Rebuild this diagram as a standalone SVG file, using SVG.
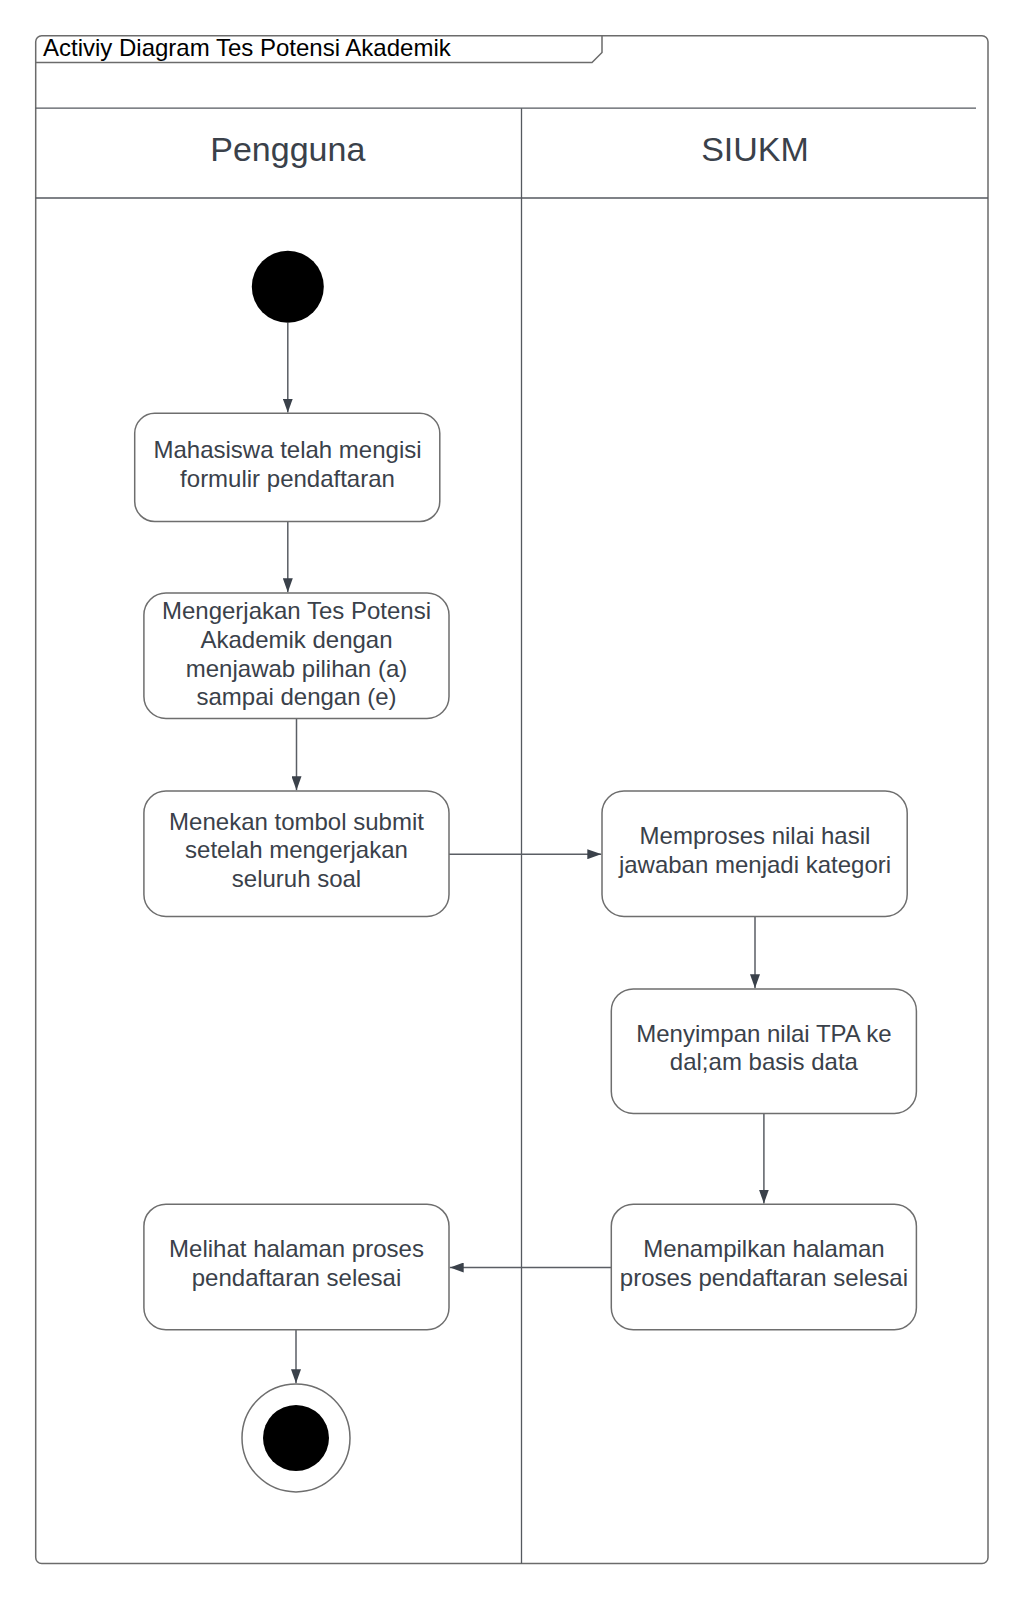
<svg xmlns="http://www.w3.org/2000/svg" width="1024" height="1600" viewBox="0 0 1024 1600">
<style>
.frame{fill:none;stroke:#6b6b6b;stroke-width:1.5}
.lane{fill:none;stroke:#55595f;stroke-width:1.3}
.box{fill:#ffffff;stroke:#6e6e6e;stroke-width:1.5}
.txt{font-family:"Liberation Sans",Arial,sans-serif;font-size:24px;fill:#3a414a;text-anchor:middle}
.lt{font-family:"Liberation Sans",Arial,sans-serif;font-size:34px;fill:#3a414a;text-anchor:middle}
.title{font-family:"Liberation Sans",Arial,sans-serif;font-size:24px;fill:#000000}
.conn{fill:none;stroke:#5a5e64;stroke-width:1.5}
</style>
<defs>
<marker id="arr" viewBox="0 0 14 10" refX="14" refY="5" markerWidth="14" markerHeight="10" markerUnits="userSpaceOnUse" orient="auto">
<path d="M0,0 L14,5 L0,10 Z" fill="#3a414a"/>
</marker>
</defs>
<rect width="1024" height="1600" fill="#ffffff"/>
<g id="frame">
<rect class="frame" x="35.7" y="35.7" width="952.3" height="1527.8" rx="6"/>
<path class="frame" d="M35.7,62.5 L592,62.5 L602,52.5 L602,35.7"/>
<text class="title" x="43" y="55.8">Activiy Diagram Tes Potensi Akademik</text>
<line class="lane" x1="35.7" y1="108.2" x2="976" y2="108.2"/>
<line class="lane" x1="35.7" y1="198" x2="988" y2="198"/>
<line class="lane" x1="521.5" y1="108.2" x2="521.5" y2="1563.5"/>
</g>
<g id="lane-pengguna"><text class="lt" x="287.8" y="161.4">Pengguna</text></g>
<g id="lane-siukm"><text class="lt" x="755" y="161.4">SIUKM</text></g>
<g id="connectors">
<line class="conn" x1="287.8" y1="322.8" x2="287.8" y2="412.6" marker-end="url(#arr)"/>
<line class="conn" x1="287.8" y1="521.5" x2="287.8" y2="592.3" marker-end="url(#arr)"/>
<line class="conn" x1="296.5" y1="718.4" x2="296.5" y2="790.3" marker-end="url(#arr)"/>
<line class="conn" x1="449" y1="854.2" x2="601.3" y2="854.2" marker-end="url(#arr)"/>
<line class="conn" x1="755" y1="916.4" x2="755" y2="988.2" marker-end="url(#arr)"/>
<line class="conn" x1="763.9" y1="1113.4" x2="763.9" y2="1203.5" marker-end="url(#arr)"/>
<line class="conn" x1="611.3" y1="1267.5" x2="449.7" y2="1267.5" marker-end="url(#arr)"/>
<line class="conn" x1="296" y1="1329.7" x2="296" y2="1383.2" marker-end="url(#arr)"/>
</g>
<g id="start"><circle cx="287.8" cy="286.8" r="36" fill="#000000"/></g>
<g id="n1">
<rect class="box" x="134.7" y="413.3" width="305.1" height="108.2" rx="20"/>
<text class="txt" x="287.5" y="458.4">Mahasiswa telah mengisi</text>
<text class="txt" x="287.5" y="486.8">formulir pendaftaran</text>
</g>
<g id="n2">
<rect class="box" x="143.9" y="593" width="305.1" height="125.4" rx="22"/>
<text class="txt" x="296.5" y="619.4">Mengerjakan Tes Potensi</text>
<text class="txt" x="296.5" y="647.8">Akademik dengan</text>
<text class="txt" x="296.5" y="676.7">menjawab pilihan (a)</text>
<text class="txt" x="296.5" y="705.1">sampai dengan (e)</text>
</g>
<g id="n3">
<rect class="box" x="143.9" y="791" width="305.1" height="125.4" rx="22"/>
<text class="txt" x="296.5" y="829.7">Menekan tombol submit</text>
<text class="txt" x="296.5" y="858">setelah mengerjakan</text>
<text class="txt" x="296.5" y="887">seluruh soal</text>
</g>
<g id="n4">
<rect class="box" x="602" y="791" width="305.2" height="125.4" rx="22"/>
<text class="txt" x="755" y="844.1">Memproses nilai hasil</text>
<text class="txt" x="755" y="872.5">jawaban menjadi kategori</text>
</g>
<g id="n5">
<rect class="box" x="611.3" y="988.9" width="305.1" height="124.5" rx="22"/>
<text class="txt" x="763.9" y="1041.9">Menyimpan nilai TPA ke</text>
<text class="txt" x="763.9" y="1070.3">dal;am basis data</text>
</g>
<g id="n6">
<rect class="box" x="611.3" y="1204.2" width="305.1" height="125.5" rx="22"/>
<text class="txt" x="763.9" y="1257.2">Menampilkan halaman</text>
<text class="txt" x="763.9" y="1285.6">proses pendaftaran selesai</text>
</g>
<g id="n7">
<rect class="box" x="143.9" y="1204.2" width="305.1" height="125.5" rx="22"/>
<text class="txt" x="296.5" y="1257.2">Melihat halaman proses</text>
<text class="txt" x="296.5" y="1285.6">pendaftaran selesai</text>
</g>
<g id="end">
<circle cx="296" cy="1437.9" r="54" fill="#ffffff" stroke="#6e6e6e" stroke-width="1.5"/>
<circle cx="296" cy="1437.9" r="33" fill="#000000"/>
</g>
</svg>
